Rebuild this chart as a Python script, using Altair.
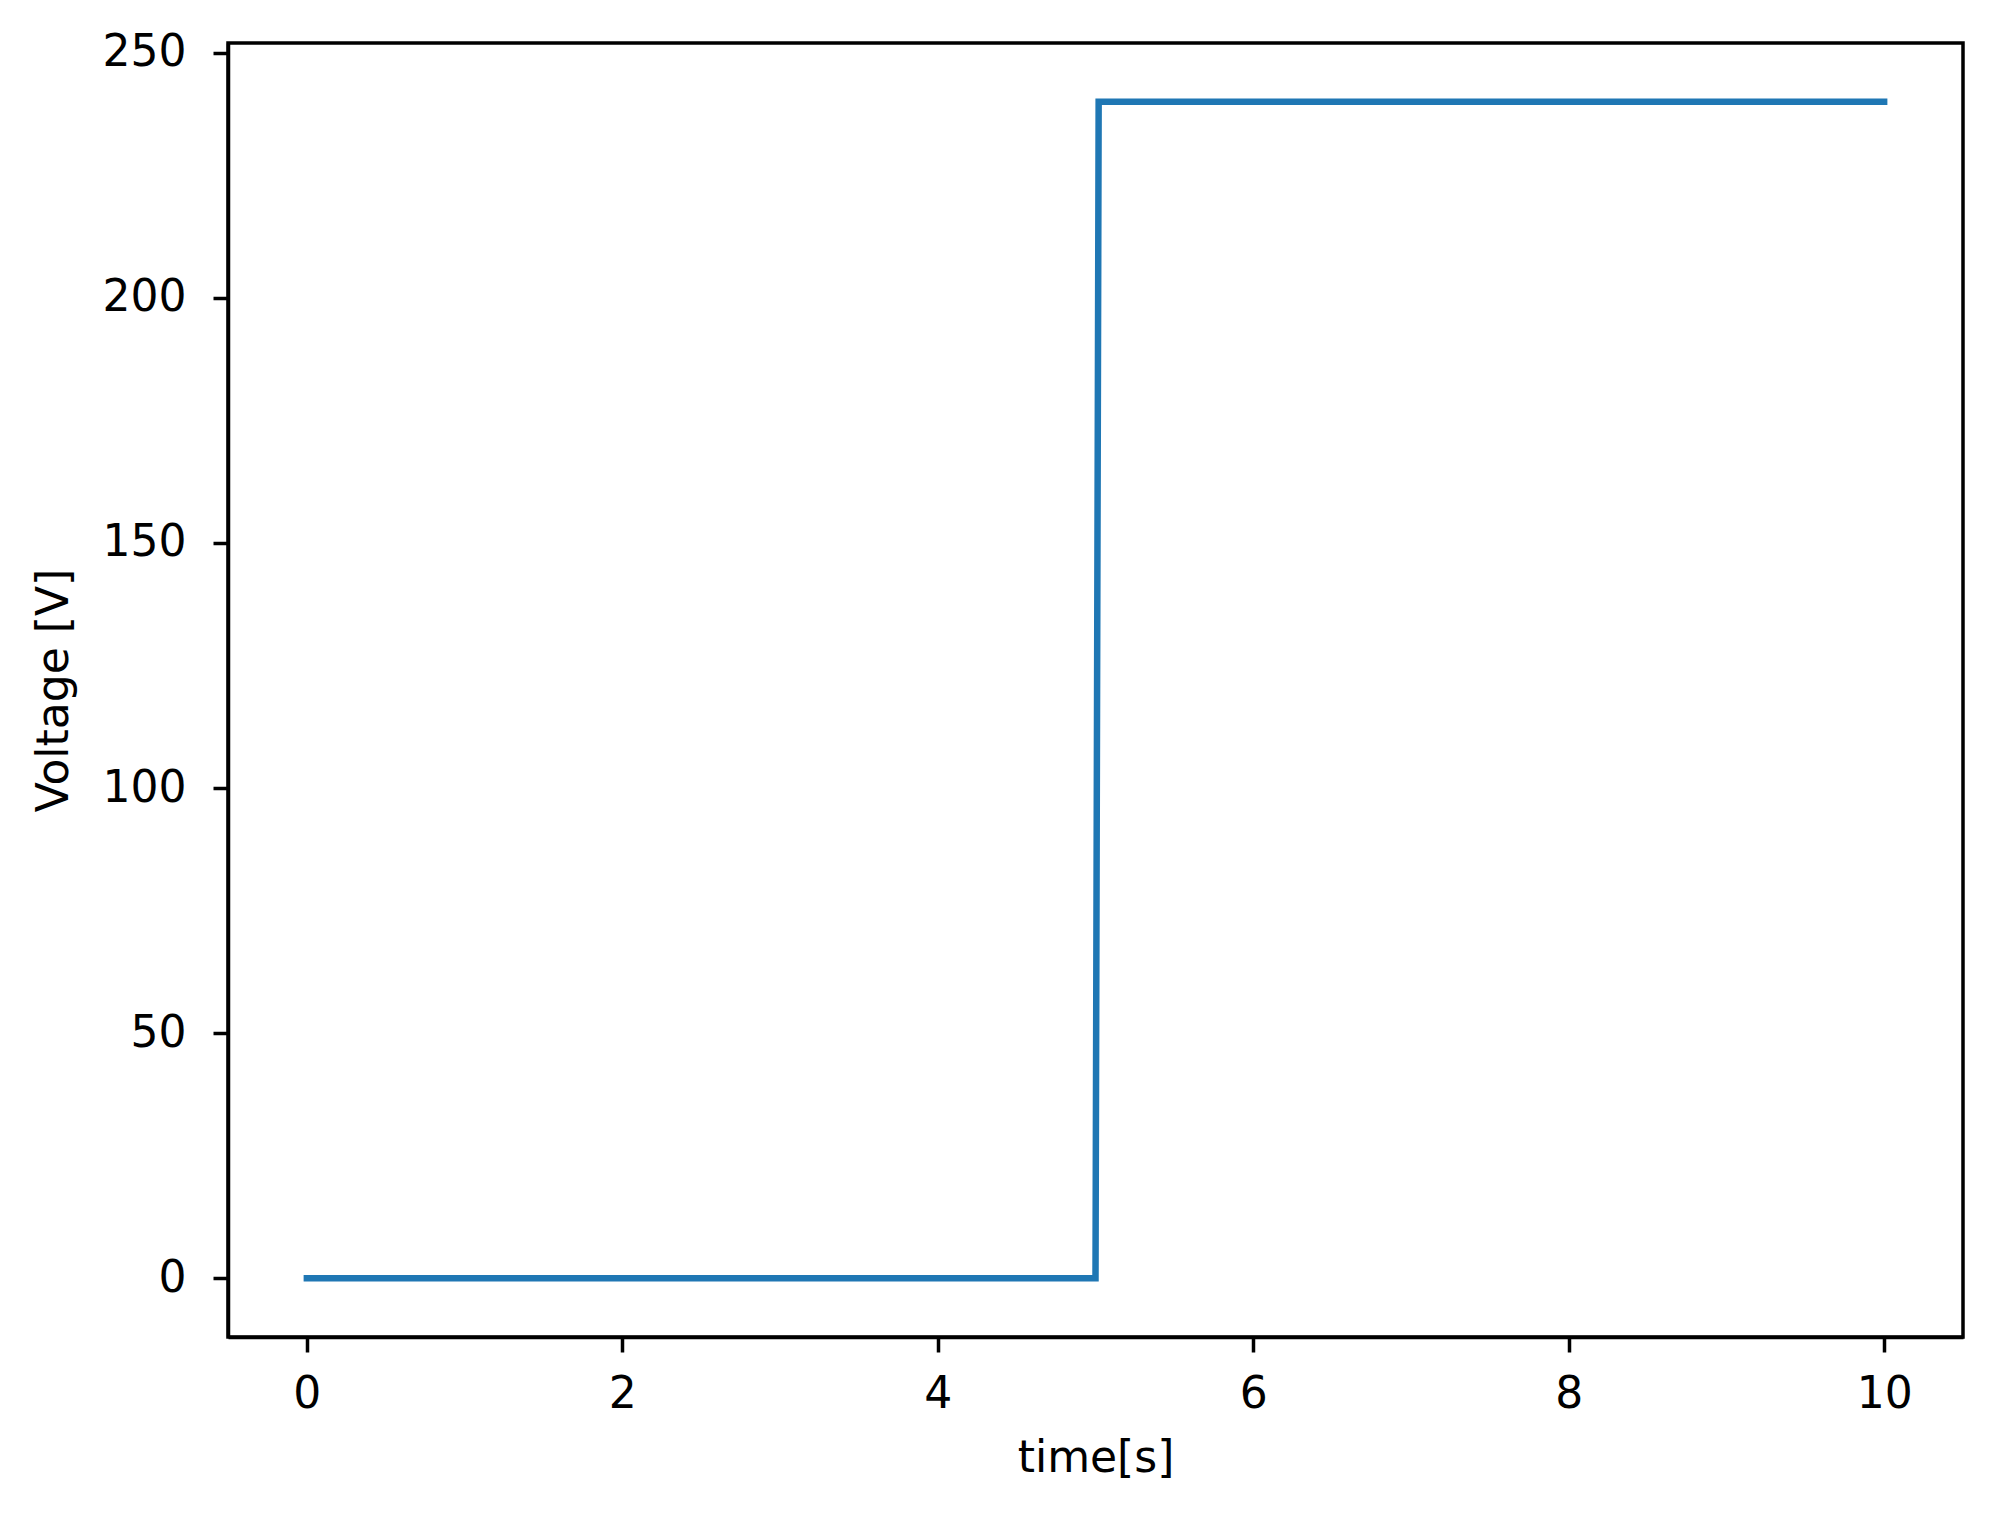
import altair as alt
import pandas as pd

time_s = [0.0, 5.0, 5.02, 10.0]
voltage_v = [0.0, 0.0, 240.0, 240.0]
x_ticks = [0, 2, 4, 6, 8, 10]
y_ticks = [0, 50, 100, 150, 200, 250]

df = pd.DataFrame({"time": time_s, "voltage": voltage_v, "order": list(range(len(time_s)))})

FONT = "DejaVu Sans"
FS = 44

chart = alt.Chart(df).mark_line(color="#1f77b4", strokeWidth=6.5, strokeCap="square", strokeJoin="miter").encode(
    x=alt.X("time:Q", scale=alt.Scale(domain=[-0.5, 10.5], nice=False, zero=False),
            axis=alt.Axis(values=x_ticks, title="time[s]", format="d")),
    y=alt.Y("voltage:Q", scale=alt.Scale(domain=[-12, 252], nice=False, zero=False),
            axis=alt.Axis(values=y_ticks, title="Voltage [V]", format="d")),
    order="order:Q",
).properties(
    width=1735, height=1294,
    autosize=alt.AutoSizeParams(type="none"),
    padding={"left": 220, "top": 35, "right": 20, "bottom": 160},
).configure_view(
    stroke="black", strokeWidth=3.5
).configure_axis(
    grid=False,
    domainColor="black", domainWidth=3.5,
    tickColor="black", tickWidth=3.5, tickSize=15,
    labelFont=FONT, labelFontSize=FS, labelColor="black",
    titleFont=FONT, titleFontSize=FS, titleColor="black", titleFontWeight="normal",
).configure_axisX(
    labelPadding=20, titlePadding=20,
).configure_axisY(
    labelPadding=27, titlePadding=26,
)

chart.save("out.html", embed_options={"renderer": "svg", "actions": False})
